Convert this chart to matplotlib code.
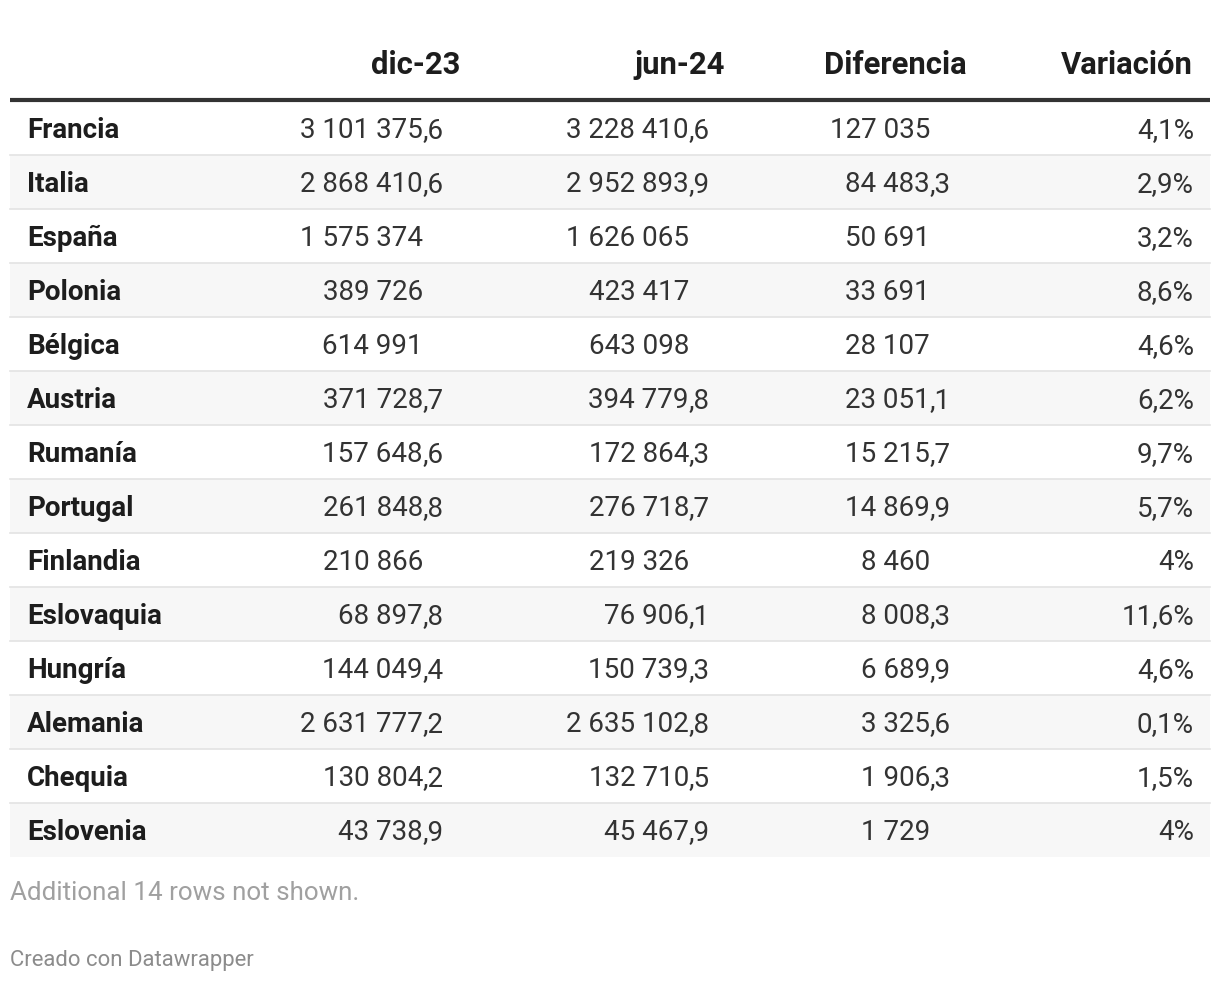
import matplotlib.pyplot as plt
from matplotlib.patches import Rectangle

# Table data
countries = ['Francia', 'Italia', 'España', 'Polonia', 'Bélgica', 'Austria', 'Rumanía',
             'Portugal', 'Finlandia', 'Eslovaquia', 'Hungría', 'Alemania', 'Chequia', 'Eslovenia']
dic_23 = [3101375.6, 2868410.6, 1575374, 389726, 614991, 371728.7, 157648.6,
          261848.8, 210866, 68897.8, 144049.4, 2631777.2, 130804.2, 43738.9]
jun_24 = [3228410.6, 2952893.9, 1626065, 423417, 643098, 394779.8, 172864.3,
          276718.7, 219326, 76906.1, 150739.3, 2635102.8, 132710.5, 45467.9]
diferencia = [127035, 84483.3, 50691, 33691, 28107, 23051.1, 15215.7,
              14869.9, 8460, 8008.3, 6689.9, 3325.6, 1906.3, 1729]
variacion = [4.1, 2.9, 3.2, 8.6, 4.6, 6.2, 9.7, 5.7, 4.0, 11.6, 4.6, 0.1, 1.5, 4.0]
headers = ['dic-23', 'jun-24', 'Diferencia', 'Variación']
note = 'Additional 14 rows not shown.'
credit = 'Creado con Datawrapper'


def fmt(v):
    """Spanish style: space thousands, comma decimal, decimals only if needed."""
    if float(v).is_integer():
        s = f'{int(v):,}'.replace(',', ' ')
        return s, ''
    ip, dp = f'{v:.1f}'.split('.')
    return f'{int(ip):,}'.replace(',', ' '), ',' + dp


W, H = 1220, 982
fig = plt.figure(figsize=(W / 100, H / 100), dpi=100)
ax = fig.add_axes([0, 0, 1, 1])
ax.set_xlim(0, W)
ax.set_ylim(H, 0)
ax.axis('off')

plt.rcParams['font.family'] = ['Roboto', 'DejaVu Sans']
fs = 20  # pt, about 28 px
hfs = 22.3  # header size
dark = '#1d1d1d'
txt = '#333333'

left, right = 10, 1210
row_h = 54
top = 101
header_y = 74

# header
ax.text(460, header_y, headers[0], ha='right', va='baseline', fontsize=hfs, fontweight='bold', color=dark)
ax.text(725, header_y, headers[1], ha='right', va='baseline', fontsize=hfs, fontweight='bold', color=dark)
ax.text(967, header_y, headers[2], ha='right', va='baseline', fontsize=hfs, fontweight='bold', color=dark)
ax.text(1193, header_y, headers[3], ha='right', va='baseline', fontsize=hfs, fontweight='bold', color=dark)

# rows
for i, name in enumerate(countries):
    y0 = top + i * row_h
    if i % 2 == 1:
        ax.add_patch(Rectangle((left, y0), right - left, row_h, color='#f7f7f7', lw=0, zorder=0))
    if i < len(countries) - 1:
        ax.plot([left, right], [y0 + row_h, y0 + row_h], color='#e3e3e3', lw=1.2, zorder=1)
    yb = y0 + row_h / 2 + 10
    ax.text(27, yb, name, ha='left', va='baseline', fontsize=fs, fontweight='bold', color=dark)
    # decimal-aligned numeric columns
    for vals, xc in ((dic_23, 423), (jun_24, 689), (diferencia, 930)):
        ip, dp = fmt(vals[i])
        ax.text(xc, yb, ip, ha='right', va='baseline', fontsize=fs, color=txt)
        if dp:
            ax.text(xc, yb, dp, ha='left', va='baseline', fontsize=fs, color=txt)
    ip, dp = fmt(variacion[i])
    ax.text(1194, yb, ip + dp + '%', ha='right', va='baseline', fontsize=fs, color=txt)

# thick header rule
ax.plot([left, right], [100, 100], color='#333333', lw=3, solid_capstyle='butt', zorder=2)

# footer
ax.text(10, 900, note, ha='left', va='baseline', fontsize=18.7, color='#a0a0a0')
ax.text(10, 966, credit, ha='left', va='baseline', fontsize=15.9, color='#8c8c8c')

fig.savefig('out.png', dpi=100, facecolor='white')
